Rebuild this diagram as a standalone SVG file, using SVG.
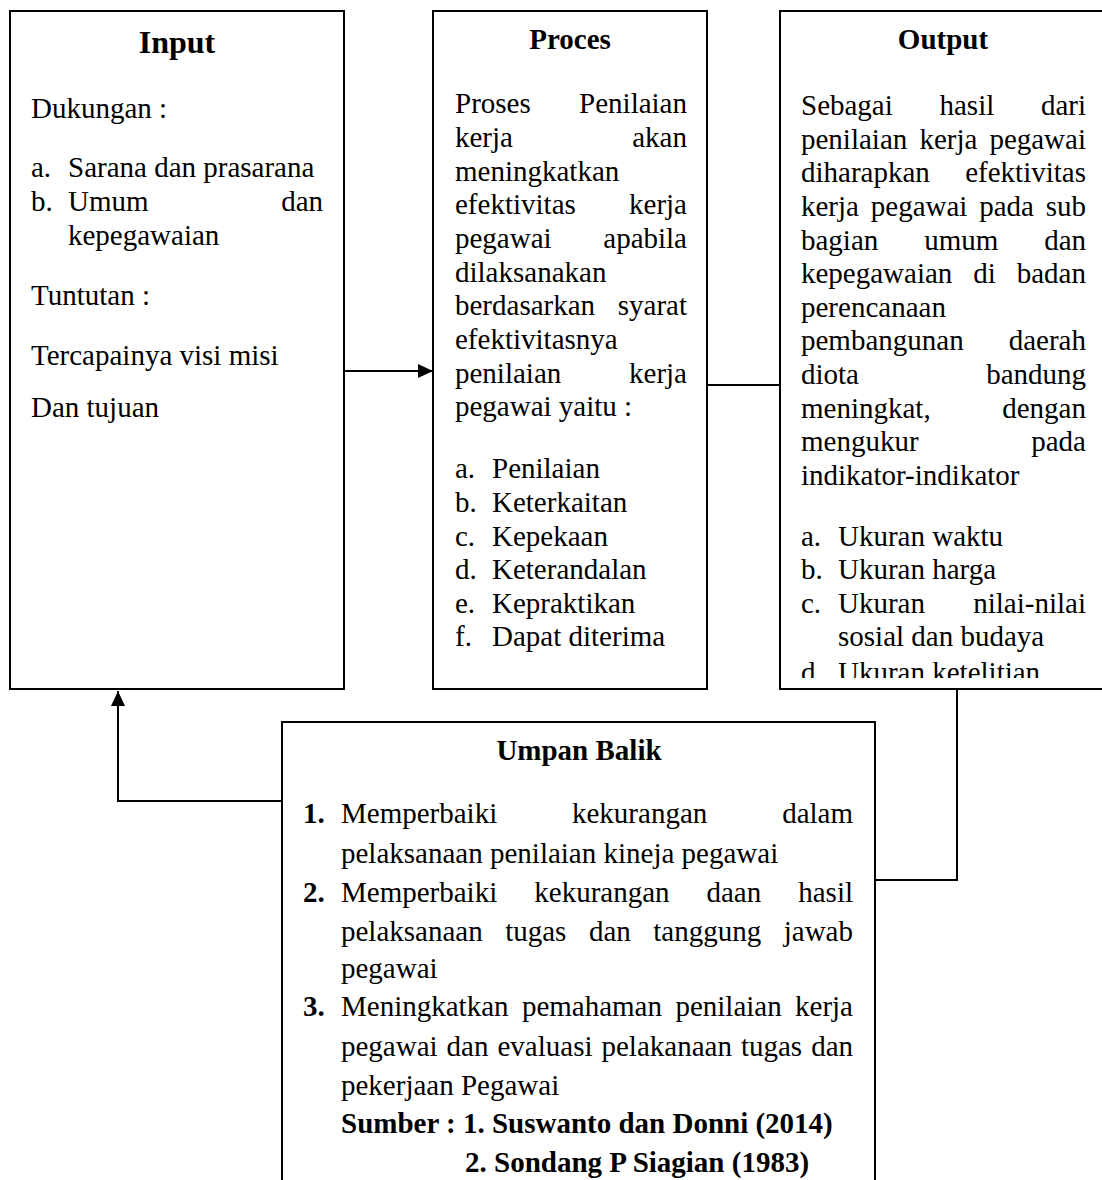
<svg xmlns="http://www.w3.org/2000/svg" width="1102" height="1180" viewBox="0 0 1102 1180">
<style>
text{font-family:"Liberation Serif","Times New Roman",serif;font-size:29px;fill:#000}
.h{font-weight:bold;text-anchor:middle}
.b{font-weight:bold}
.e{text-anchor:end}
.box{fill:#fff;stroke:#000;stroke-width:2}
.c{fill:none;stroke:#000;stroke-width:2}
</style>
<defs>
<marker id="ah" markerUnits="userSpaceOnUse" markerWidth="16" markerHeight="16" refX="15" refY="7" orient="auto">
<path d="M0,0 L15,7 L0,14 Z" fill="#000"/>
</marker>
<clipPath id="oclip"><rect x="780" y="0" width="330" height="678"/></clipPath>
</defs>

<g id="connectors">
<path class="c" d="M344,371 H433" marker-end="url(#ah)"/>
<path class="c" d="M707,385 H780"/>
<path class="c" d="M957,689 V880 H875"/>
<path class="c" d="M282,801 H118 V691" marker-end="url(#ah)"/>
</g>

<g id="input">
<rect class="box" x="10" y="11" width="334" height="678"/>
<text class="h" x="177" y="53" style="font-size:32px">Input</text>
<text x="31" y="118">Dukungan :</text>
<text x="31" y="177">a.</text><text x="68" y="177">Sarana dan prasarana</text>
<text x="31" y="211">b.</text><text x="68" y="211">Umum</text><text class="e" x="323" y="211">dan</text>
<text x="68" y="245">kepegawaian</text>
<text x="31" y="305">Tuntutan :</text>
<text x="31" y="365">Tercapainya visi misi</text>
<text x="31" y="417">Dan tujuan</text>
</g>

<g id="proces">
<rect class="box" x="433" y="11" width="274" height="678"/>
<text class="h" x="570" y="49">Proces</text>
<text x="455" y="113">Proses</text><text class="e" x="687" y="113">Penilaian</text>
<text x="455" y="147">kerja</text><text class="e" x="687" y="147">akan</text>
<text x="455" y="181">meningkatkan</text>
<text x="455" y="214">efektivitas</text><text class="e" x="687" y="214">kerja</text>
<text x="455" y="248">pegawai</text><text class="e" x="687" y="248">apabila</text>
<text x="455" y="282">dilaksanakan</text>
<text x="455" y="315">berdasarkan</text><text class="e" x="687" y="315">syarat</text>
<text x="455" y="349">efektivitasnya</text>
<text x="455" y="383">penilaian</text><text class="e" x="687" y="383">kerja</text>
<text x="455" y="416">pegawai yaitu :</text>
<text x="455" y="478">a.</text><text x="492" y="478">Penilaian</text>
<text x="455" y="512">b.</text><text x="492" y="512">Keterkaitan</text>
<text x="455" y="546">c.</text><text x="492" y="546">Kepekaan</text>
<text x="455" y="579">d.</text><text x="492" y="579">Keterandalan</text>
<text x="455" y="613">e.</text><text x="492" y="613">Kepraktikan</text>
<text x="455" y="646">f.</text><text x="492" y="646">Dapat diterima</text>
</g>

<g id="output">
<rect class="box" x="780" y="11" width="330" height="678"/>
<text class="h" x="943" y="49">Output</text>
<g clip-path="url(#oclip)">
<text x="801" y="115">Sebagai</text><text x="939.5" y="115">hasil</text><text class="e" x="1086" y="115">dari</text>
<text x="801" y="149">penilaian</text><text x="919.4" y="149">kerja</text><text class="e" x="1086" y="149">pegawai</text>
<text x="801" y="182">diharapkan</text><text class="e" x="1086" y="182">efektivitas</text>
<text x="801" y="216">kerja</text><text x="870.8" y="216">pegawai</text><text x="979.2" y="216">pada</text><text class="e" x="1086" y="216">sub</text>
<text x="801" y="250">bagian</text><text x="924.2" y="250">umum</text><text class="e" x="1086" y="250">dan</text>
<text x="801" y="283">kepegawaian</text><text x="973.2" y="283">di</text><text class="e" x="1086" y="283">badan</text>
<text x="801" y="317">perencanaan</text>
<text x="801" y="350">pembangunan</text><text class="e" x="1086" y="350">daerah</text>
<text x="801" y="384">diota</text><text class="e" x="1086" y="384">bandung</text>
<text x="801" y="418">meningkat,</text><text class="e" x="1086" y="418">dengan</text>
<text x="801" y="451">mengukur</text><text class="e" x="1086" y="451">pada</text>
<text x="801" y="485">indikator-indikator</text>
<text x="801" y="546">a.</text><text x="838" y="546">Ukuran waktu</text>
<text x="801" y="579">b.</text><text x="838" y="579">Ukuran harga</text>
<text x="801" y="613">c.</text><text x="838" y="613">Ukuran</text><text class="e" x="1086" y="613">nilai-nilai</text>
<text x="838" y="646">sosial dan budaya</text>
<text x="801" y="682">d.</text><text x="838" y="682">Ukuran ketelitian</text>
</g>
</g>

<g id="umpan-balik">
<rect class="box" x="282" y="722" width="593" height="480"/>
<text class="h" x="579" y="760">Umpan Balik</text>
<text class="b" x="303" y="823">1.</text>
<text x="341" y="823">Memperbaiki</text><text x="572" y="823">kekurangan</text><text class="e" x="853" y="823">dalam</text>
<text x="341" y="863">pelaksanaan penilaian kineja pegawai</text>
<text class="b" x="303" y="902">2.</text>
<text x="341" y="902">Memperbaiki</text><text x="534.3" y="902">kekurangan</text><text x="706.5" y="902">daan</text><text class="e" x="853" y="902">hasil</text>
<text x="341" y="941">pelaksanaan</text><text x="505.2" y="941">tugas</text><text x="588.9" y="941">dan</text><text x="653.3" y="941">tanggung</text><text class="e" x="853" y="941">jawab</text>
<text x="341" y="978">pegawai</text>
<text class="b" x="303" y="1016">3.</text>
<text x="341" y="1016">Meningkatkan</text><text x="521.9" y="1016">pemahaman</text><text x="675.4" y="1016">penilaian</text><text class="e" x="853" y="1016">kerja</text>
<text x="341" y="1056">pegawai</text><text x="446.6" y="1056">dan</text><text x="497.5" y="1056">evaluasi</text><text x="601.5" y="1056">pelakanaan</text><text x="740.9" y="1056">tugas</text><text class="e" x="853" y="1056">dan</text>
<text x="341" y="1095">pekerjaan Pegawai</text>
<text class="b" x="341" y="1133">Sumber : 1. Suswanto dan Donni (2014)</text>
<text class="b" x="465" y="1172">2. Sondang P Siagian (1983)</text>
</g>
</svg>
